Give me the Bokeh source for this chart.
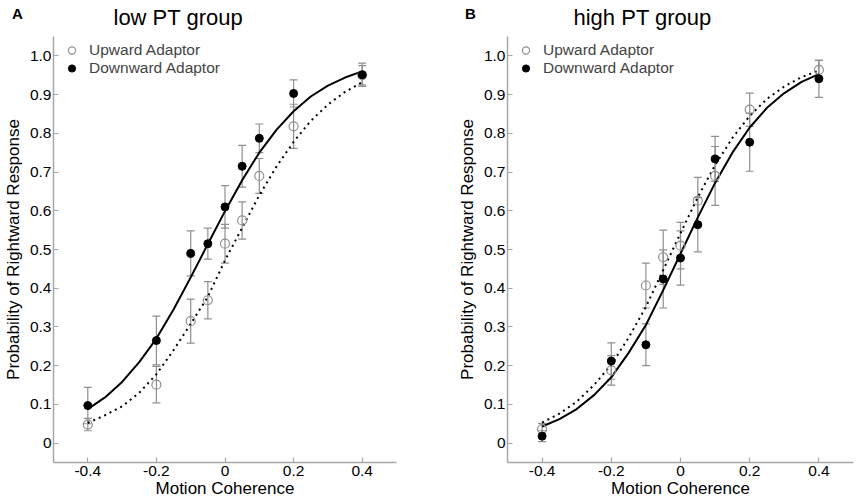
from bokeh.plotting import figure
from bokeh.layouts import row
from bokeh.models import (ColumnDataSource, Whisker, TeeHead, Legend, LegendItem,
                          FixedTicker, Range1d, Div)
from bokeh.embed import file_html
from bokeh.resources import INLINE

# ---------------- data ----------------
coh = [-0.4, -0.2, -0.1, -0.05, 0.0, 0.05, 0.1, 0.2, 0.4]

# panel A (low PT group)
a_up = [0.048, 0.151, 0.315, 0.369, 0.515, 0.575, 0.690, 0.818, 0.950]
a_up_err = [0.016, 0.047, 0.057, 0.048, 0.050, 0.048, 0.045, 0.057, 0.025]
a_down = [0.097, 0.265, 0.490, 0.515, 0.610, 0.715, 0.787, 0.903, 0.951]
a_down_err = [0.047, 0.063, 0.058, 0.040, 0.055, 0.054, 0.037, 0.035, 0.030]

# panel B (high PT group)
b_up = [0.036, 0.188, 0.407, 0.480, 0.510, 0.626, 0.690, 0.861, 0.964]
b_up_err = [0.015, 0.038, 0.058, 0.070, 0.060, 0.060, 0.076, 0.043, 0.024]
b_down = [0.018, 0.212, 0.254, 0.424, 0.478, 0.564, 0.734, 0.777, 0.941]
b_down_err = [0.014, 0.047, 0.054, 0.075, 0.070, 0.070, 0.058, 0.075, 0.048]

# fitted curves
curve_x = [-0.4, -0.35, -0.3, -0.25, -0.2, -0.15, -0.1, -0.05, 0.0,
           0.05, 0.1, 0.15, 0.2, 0.25, 0.3, 0.35, 0.4]
a_up_fit = [0.052, 0.072, 0.095, 0.130, 0.178, 0.240, 0.308, 0.378, 0.472,
            0.556, 0.640, 0.714, 0.778, 0.832, 0.874, 0.907, 0.932]
a_down_fit = [0.088, 0.118, 0.158, 0.209, 0.270, 0.345, 0.428, 0.514, 0.599,
              0.679, 0.750, 0.809, 0.857, 0.895, 0.923, 0.944, 0.960]
b_up_fit = [0.053, 0.076, 0.107, 0.150, 0.203, 0.272, 0.352, 0.447, 0.542,
            0.635, 0.718, 0.788, 0.845, 0.889, 0.921, 0.945, 0.962]
b_down_fit = [0.043, 0.062, 0.088, 0.124, 0.170, 0.233, 0.305, 0.395, 0.489,
              0.583, 0.672, 0.750, 0.815, 0.866, 0.904, 0.933, 0.953]

x_ticks = [-0.4, -0.2, 0, 0.2, 0.4]
x_tick_labels = ["-0.4", "-0.2", "0", "0.2", "0.4"]
y_ticks = [0, 0.1, 0.2, 0.3, 0.4, 0.5, 0.6, 0.7, 0.8, 0.9, 1.0]
y_tick_labels = ["0", "0.1", "0.2", "0.3", "0.4", "0.5", "0.6", "0.7", "0.8", "0.9", "1.0"]

titles = ["low PT group", "high PT group"]
letters = ["A", "B"]
legend_labels = ["Upward Adaptor", "Downward Adaptor"]
x_title = "Motion Coherence"
y_title = "Probability of Rightward Response"

FONT = "Liberation Sans"
AXIS_GRAY = "#a8a8a8"
ERR_GRAY = "#8f8f8f"
PT_GRAY = "#8f8f8f"
W, H = 430, 503
B_TOP, B_BOTTOM = 35, 41
FRAME_H = H - B_TOP - B_BOTTOM


def make_panel(up, up_err, down, down_err, up_fit, down_fit, title,
               border_left, border_right, title_offset):
    p = figure(width=W, height=H, output_backend="svg", toolbar_location=None,
               x_range=Range1d(-0.5, 0.5), y_range=Range1d(-0.05, 1.05),
               min_border_left=border_left, min_border_right=border_right,
               min_border_top=B_TOP, min_border_bottom=B_BOTTOM)
    p.outline_line_color = None
    p.grid.visible = False
    p.background_fill_color = None
    p.border_fill_color = None

    p.title.text = title
    p.title.align = "left"
    p.title.offset = title_offset
    p.title.text_font = FONT
    p.title.text_font_size = "22px"
    p.title.text_font_style = "normal"
    p.title.text_color = "black"
    p.title.standoff = 9
    p.title.vertical_align = "top"

    for ax in (p.xaxis[0], p.yaxis[0]):
        ax.axis_line_color = AXIS_GRAY
        ax.axis_line_width = 1.5
        ax.major_tick_line_color = AXIS_GRAY
        ax.major_tick_line_width = 1.2
        ax.major_tick_in = 5
        ax.major_tick_out = 0
        ax.minor_tick_line_color = None
        ax.major_label_text_font = FONT
        ax.major_label_text_font_size = "15.5px"
        ax.major_label_text_color = "black"
        ax.axis_label_text_font = FONT
        ax.axis_label_text_font_size = "17px"
        ax.axis_label_text_font_style = "normal"
        ax.axis_label_text_color = "black"

    p.xaxis.ticker = FixedTicker(ticks=x_ticks)
    p.xaxis.major_label_overrides = {t: l for t, l in zip(x_ticks, x_tick_labels)}
    p.yaxis.ticker = FixedTicker(ticks=y_ticks)
    p.yaxis.major_label_overrides = {t: l for t, l in zip(y_ticks, y_tick_labels)}
    p.xaxis.axis_label = x_title
    p.yaxis.axis_label = y_title
    p.xaxis.major_label_standoff = 3
    p.xaxis.axis_label_standoff = 0
    p.yaxis.major_label_standoff = 2
    p.yaxis.axis_label_standoff = 4

    # fitted curves
    p.line(curve_x, up_fit, line_color="black", line_width=2, line_dash="2 4")
    p.line(curve_x, down_fit, line_color="black", line_width=2)

    # error bars
    for vals, errs in ((up, up_err), (down, down_err)):
        src = ColumnDataSource(dict(x=coh,
                                    lo=[v - e for v, e in zip(vals, errs)],
                                    hi=[v + e for v, e in zip(vals, errs)]))
        w = Whisker(source=src, base="x", lower="lo", upper="hi",
                    line_color=ERR_GRAY, line_width=1.2,
                    upper_head=TeeHead(size=8, line_color=ERR_GRAY, line_width=1.2),
                    lower_head=TeeHead(size=8, line_color=ERR_GRAY, line_width=1.2))
        p.add_layout(w)

    r_up = p.scatter(coh, up, marker="circle", size=9, fill_color="white",
                     fill_alpha=0.0, line_color=PT_GRAY, line_width=1.2)
    r_down = p.scatter(coh, down, marker="circle", size=8, fill_color="black",
                       line_color="black")

    legend = Legend(items=[LegendItem(label=legend_labels[0], renderers=[r_up]),
                           LegendItem(label=legend_labels[1], renderers=[r_down])],
                    location=(1, FRAME_H - 6 - 36), margin=0, padding=0, spacing=0,
                    glyph_width=35, glyph_height=18, label_height=18,
                    label_standoff=0, label_text_font=FONT,
                    label_text_font_size="15.5px", border_line_color=None,
                    background_fill_alpha=0.0)
    p.add_layout(legend)
    return p


def letter_div(letter, left):
    html = (f'<span style="font-family:\'{FONT}\';font-weight:bold;'
            f'font-size:15px;line-height:15px;color:black">{letter}</span>')
    return Div(text=html, styles={
        "position": "absolute", "left": f"{left}px", "top": "6px",
        "margin": "0", "padding": "0", "z-index": "10"})


pA = make_panel(a_up, a_up_err, a_down, a_down_err, a_up_fit, a_down_fit,
                titles[0], 50, 34, 60)
pB = make_panel(b_up, b_up_err, b_down, b_down_err, b_up_fit, b_down_fit,
                titles[1], 77, 7, 66)

layout = row(pA, pB, letter_div(letters[0], 12), letter_div(letters[1], 465))
open("out.html", "w").write(file_html(layout, INLINE))
